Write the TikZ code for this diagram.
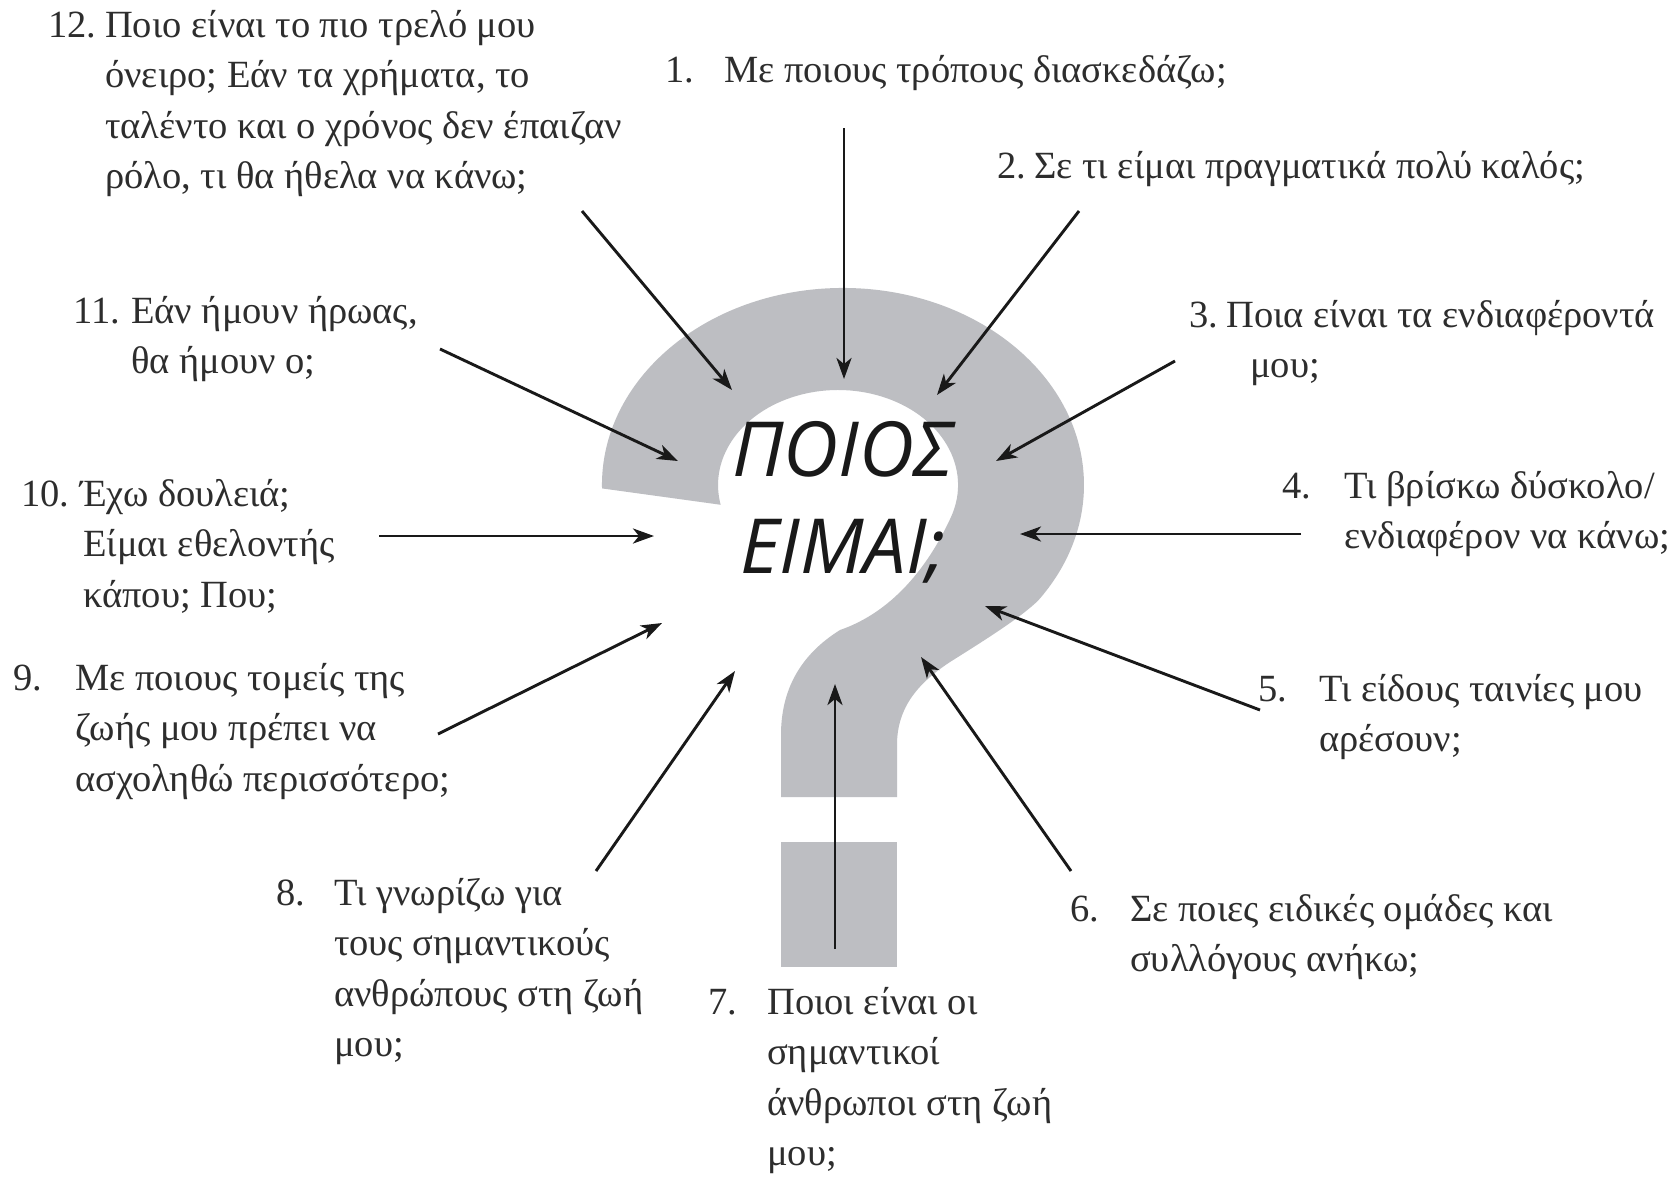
\documentclass[tikz,border=0pt]{standalone}
\usepackage{fontspec}
\usepackage{graphicx}
\setmainfont{Liberation Serif}
\newfontfamily\bigfont{Open Sans}
\usetikzlibrary{arrows.meta}
\definecolor{qgray}{RGB}{189,190,194}
\definecolor{txt}{RGB}{45,45,45}
\tikzset{
 lbl/.style={anchor=base west, inner sep=0pt, text=txt, font=\fontsize{38.5}{50.5}\selectfont},
 arr/.style={line width=2.9pt, -{Stealth[length=21pt,width=15pt,inset=6pt]}, draw=black!90},
 big/.style={anchor=base, inner sep=0pt, font=\bigfont\itshape\fontsize{76}{80}\selectfont, text=black!90}
}
\newcommand{\lines}[1]{\begin{tabular}[t]{@{}l@{}}#1\end{tabular}}
\begin{document}
\begin{tikzpicture}[x=1pt,y=-1pt]
\fill[white] (0,0) rectangle (1675,1184);
\useasboundingbox (0,0) rectangle (1675,1184);
% question mark
\fill[qgray] (781,797) -- (781,735) .. controls (781,690) and (800,655) .. (840,630)
  .. controls (892,612) and (927.7,567.5) .. (950.8,517.5)
  arc[start angle=20,end angle=-192,x radius=120,y radius=95] -- (602,488.4)
  arc[start angle=-181,end angle=36,x radius=241,y radius=197]
  .. controls (1020,618) and (985,640) .. (950,662)
  .. controls (915,685) and (897,710) .. (897,745) -- (897,797) -- cycle;
\fill[qgray] (781,842) rectangle (897,967);
% centre
\node[big] (c1) at (843,476) {ΠΟΙΟΣ};
\node[big] (c2) at (843,573) {ΕΙΜΑΙ;};
% labels
\node[lbl] (n12) at (48,37) {12.};
\node[lbl] (t12) at (105,37) {\lines{Ποιο είναι το πιο τρελό μου\\όνειρο; Εάν τα χρήματα, το\\ταλέντο και ο χρόνος δεν έπαιζαν\\ρόλο, τι θα ήθελα να κάνω;}};
\node[lbl] (n1) at (665,82) {1.};
\node[lbl] (t1) at (724,82) {Με ποιους τρόπους διασκεδάζω;};
\node[lbl] (n2) at (997,178) {2.};
\node[lbl] (t2) at (1034,178) {Σε τι είμαι πραγματικά πολύ καλός;};
\node[lbl] (n3) at (1189,327) {3.};
\node[lbl] (t3) at (1226,327) {\lines{Ποια είναι τα ενδιαφέροντά\\\hspace{24pt}μου;}};
\node[lbl] (n4) at (1282,498) {4.};
\node[lbl] (t4) at (1344,498) {\lines{Τι βρίσκω δύσκολο/\\ενδιαφέρον να κάνω;}};
\node[lbl] (n5) at (1258,701) {5.};
\node[lbl] (t5) at (1319,701) {\lines{Τι είδους ταινίες μου\\αρέσουν;}};
\node[lbl] (n6) at (1070,921) {6.};
\node[lbl] (t6) at (1130,921) {\lines{Σε ποιες ειδικές ομάδες και\\συλλόγους ανήκω;}};
\node[lbl] (n7) at (708,1014) {7.};
\node[lbl] (t7) at (767,1014) {\lines{Ποιοι είναι οι\\σημαντικοί\\άνθρωποι στη ζωή\\μου;}};
\node[lbl] (n8) at (276,905) {8.};
\node[lbl] (t8) at (334,905) {\lines{Τι γνωρίζω για\\τους σημαντικούς\\ανθρώπους στη ζωή\\μου;}};
\node[lbl] (n9) at (13,690) {9.};
\node[lbl] (t9) at (75,690) {\lines{Με ποιους τομείς της\\ζωής μου πρέπει να\\ασχοληθώ περισσότερο;}};
\node[lbl] (n10) at (21,506) {10.};
\node[lbl] (t10) at (80,506) {\lines{Έχω δουλειά;\\\hspace{3pt}Είμαι εθελοντής\\\hspace{3pt}κάπου; Που;}};
\node[lbl] (n11) at (73,323) {11.};
\node[lbl] (t11) at (131,323) {\lines{Εάν ήμουν ήρωας,\\θα ήμουν ο;}};
% arrow ends
\coordinate (s1) at (844,128);  \coordinate (e1) at (844,379);
\coordinate (s2) at (1079,211); \coordinate (e2) at (937,395);
\coordinate (s3) at (1175,361); \coordinate (e3) at (996,461);
\coordinate (s4) at (1301,534); \coordinate (e4) at (1020,534);
\coordinate (s5) at (1260,710); \coordinate (e5) at (985,606);
\coordinate (s6) at (1071,871); \coordinate (e6) at (921,657);
\coordinate (s7) at (835,949);  \coordinate (e7) at (835,684);
\coordinate (s8) at (596,871);  \coordinate (e8) at (735,671);
\coordinate (s9) at (438,734);  \coordinate (e9) at (662,623);
\coordinate (s10) at (379,536); \coordinate (e10) at (654,536);
\coordinate (s11) at (440,349); \coordinate (e11) at (678,461);
\coordinate (s12) at (582,211); \coordinate (e12) at (732,390);
\foreach \i in {1,...,12} {\draw[arr] (s\i) -- (e\i);}
\end{tikzpicture}
\end{document}
